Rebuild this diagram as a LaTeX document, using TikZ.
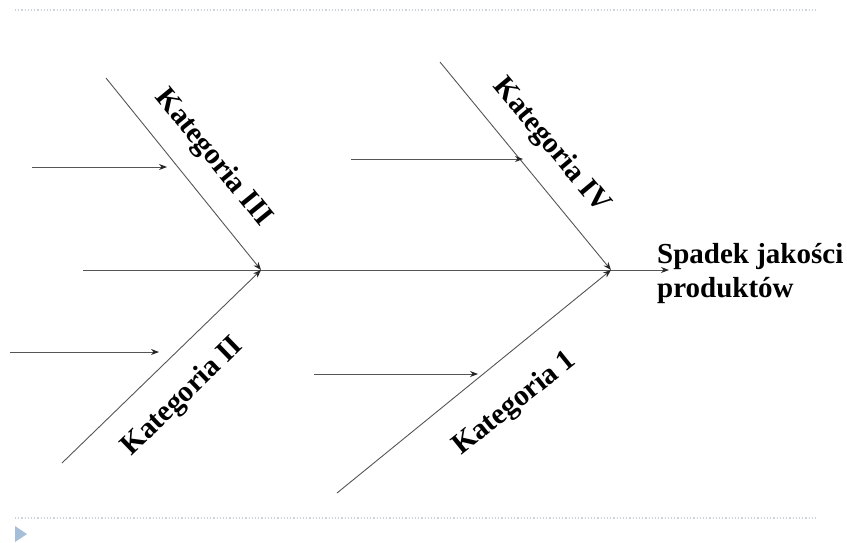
\documentclass[tikz,border=0pt]{standalone}
\usepackage{fontspec}
\setmainfont{Liberation Serif}
\usetikzlibrary{arrows.meta}

\definecolor{boneline}{RGB}{85,85,85}
\definecolor{sepline}{RGB}{200,214,228}
\definecolor{bullet}{RGB}{166,191,216}

\tikzset{
  bone/.style={draw=boneline, line width=0.9pt, -{Stealth[length=8pt,width=6pt,color=black!85]}},
  cause/.style={draw=boneline, line width=0.8pt, -{Stealth[length=8pt,width=6pt,color=black!85]}},
  lbl/.style={font=\fontsize{29.5}{34}\selectfont\bfseries, inner sep=0pt},
  effect/.style={font=\fontsize{29}{34}\selectfont\bfseries, align=left, inner sep=0pt}
}

\begin{document}
\begin{tikzpicture}[x=1pt,y=-1pt]

    \useasboundingbox (0,0) rectangle (847,542);

    % slide frame
    \draw[sepline, dotted, line width=1.2pt] (15,10) -- (816,10);
    \draw[sepline, dotted, line width=1.2pt] (15,518) -- (816,518);
    \fill[bullet] (15,526) -- (27,534) -- (15,542) -- cycle;

    % junctions and ends of the bones
    \coordinate (jleft) at (261,270);
    \coordinate (jright) at (611,270);
    \coordinate (spine) at (83,270);
    \coordinate (head) at (669,270);
    \coordinate (t3) at (106,78);
    \coordinate (t2) at (62,463);
    \coordinate (t4) at (440,62);
    \coordinate (t1) at (337,493);

    % spine
    \draw[bone] (spine) -- (head);

    % 4 main bones
    \draw[bone] (t3) -- (jleft);
    \draw[bone] (t2) -- (jleft);
    \draw[bone] (t4) -- (jright);
    \draw[bone] (t1) -- (jright);

    % small causes hitting the bones
    \coordinate (c3) at (32,167);
    \coordinate (c2) at (10,352);
    \coordinate (c4) at (351,159);
    \coordinate (c1) at (314,374);
    \coordinate (e3) at (167,167);
    \coordinate (e2) at (159,352);
    \coordinate (e4) at (523,159);
    \coordinate (e1) at (478,374);
    \foreach \k in {1,2,3,4} {
      \draw[cause] (c\k) -- (e\k);
    }

    % labels
    \node[lbl, rotate=-50.8] (kat3) at (213,158) {Kategoria III};
    \node[lbl, rotate=-50.1] (kat4) at (551,146) {Kategoria IV};
    \node[lbl, rotate=44.1] (kat2) at (183,397) {Kategoria II};
    \node[lbl, rotate=38.8] (kat1) at (515,404) {Kategoria 1};

    \node[effect, anchor=north west] (skutek) at (657,243) {Spadek jakości\\produktów};

\end{tikzpicture}
\end{document}
